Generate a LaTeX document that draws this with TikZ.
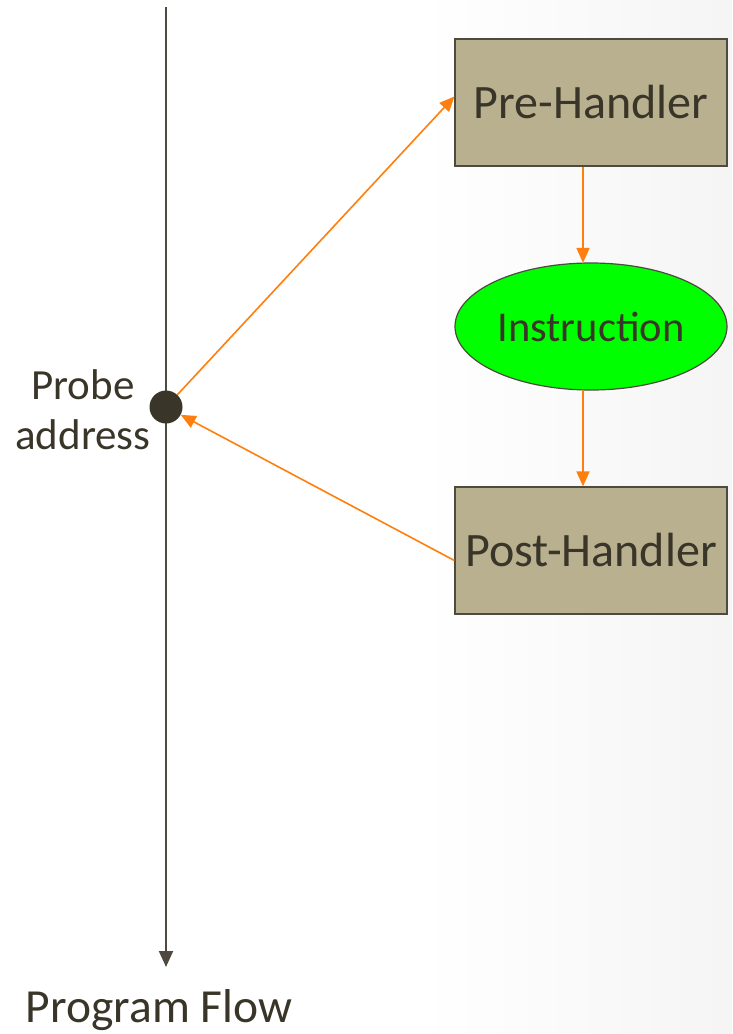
\documentclass[tikz,border=0pt]{standalone}
\usepackage{fontspec}
\setmainfont{Carlito}
\usetikzlibrary{arrows.meta,calc,shapes.geometric}
\definecolor{txt}{HTML}{3A3529}
\definecolor{tan}{HTML}{B8B08F}
\definecolor{orng}{HTML}{FF7F0E}
\definecolor{axis}{HTML}{4F4A40}
\tikzset{
  handler/.style={draw=axis, line width=1.2pt, fill=tan, minimum width=272pt, minimum height=127pt, inner sep=0pt, text=txt, font=\fontsize{48}{52}\selectfont},
  instrbox/.style={ellipse, draw=axis, line width=1.2pt, fill=green, minimum width=272pt, minimum height=127pt, inner sep=0pt, text=txt, font=\fontsize{42.5}{46}\selectfont},
  flow/.style={draw=orng, line width=1.6pt, -{Triangle[length=15pt,width=13pt]}},
  lbl/.style={text=txt, align=center, font=\fontsize{43}{50}\selectfont},
}
\begin{document}
\begin{tikzpicture}[x=1pt,y=-1pt]
\useasboundingbox (0,0) rectangle (732,1034);
\shade[left color=white, right color=black!4] (420,0) rectangle (732,1034);
\coordinate (top) at (166,7);
\coordinate (bot) at (166,967);
\draw[axis, line width=2pt, -{Triangle[length=16pt,width=14pt]}] (top) -- (bot);
\node[circle, fill=txt, minimum size=33pt, inner sep=0pt] (probe) at (166,407) {};
\node[lbl] (plabel) at (83,410) {Probe\\address};
\node[text=txt, inner sep=0pt, anchor=base, font=\fontsize{47.5}{50}\selectfont] (pflow) at (159,1022) {Program Flow};
\node[handler] (pre) at (591,102.5) {\raisebox{-3pt}{Pre-Handler}};
\node[instrbox] (instr) at (591,326.5) {\raisebox{-3pt}{Instruction}};
\node[handler] (post) at (591,550.5) {\raisebox{-3pt}{Post-Handler}};
\draw[flow] (probe) -- ($(pre.west)+(0,-6)$);
\draw[flow] ($(post.west)+(0,10)$) -- (probe);
\draw[flow] ($(pre.south)+(-8,0)$) -- ($(instr.north)+(-8,0.5)$);
\draw[flow] ($(instr.south)+(-8,-0.5)$) -- ($(post.north)+(-8,0)$);
\end{tikzpicture}
\end{document}
